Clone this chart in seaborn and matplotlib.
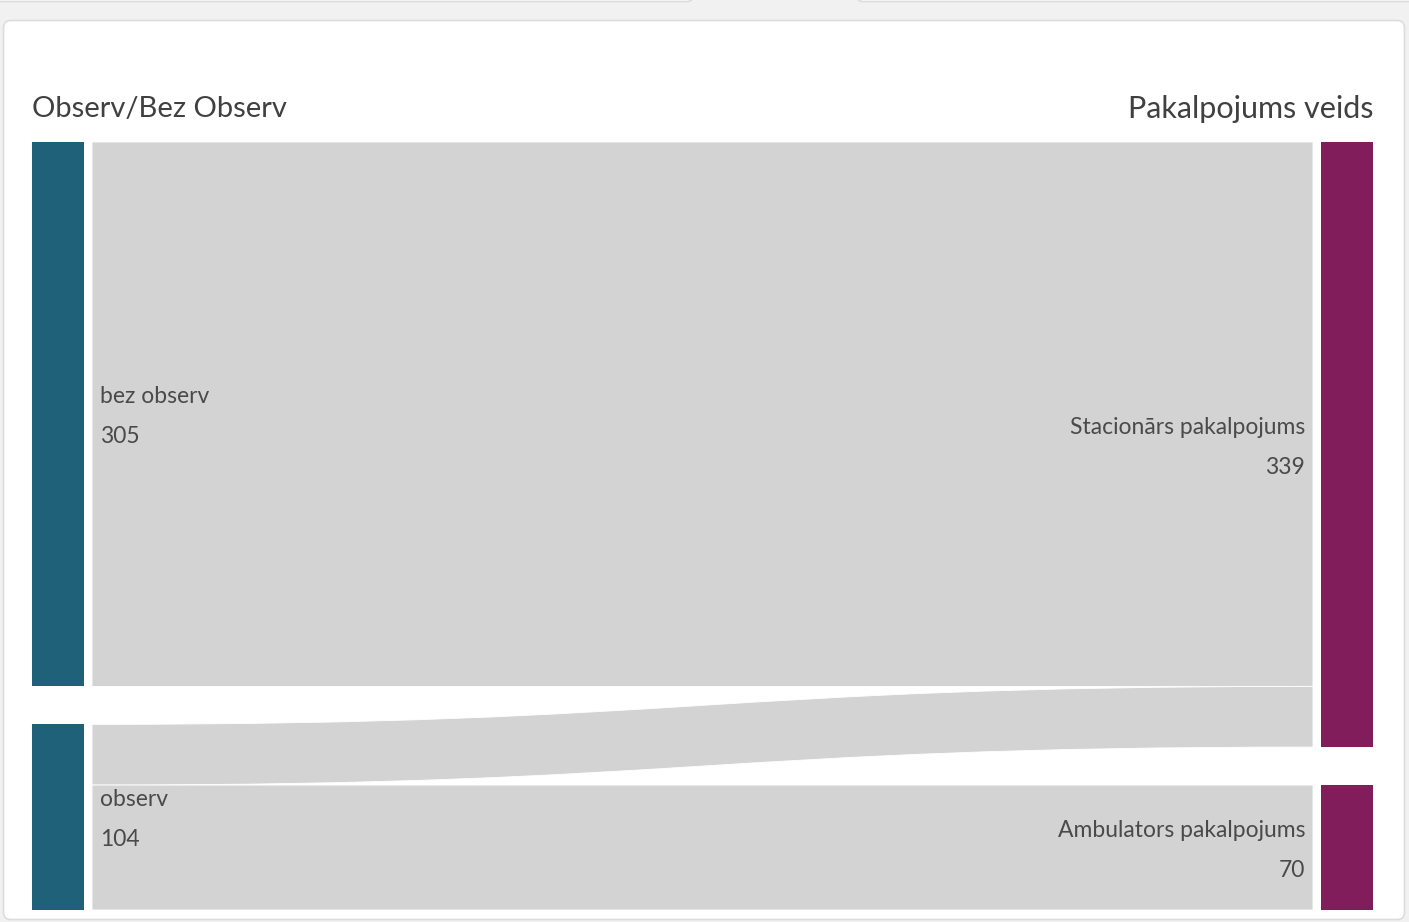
import numpy as np
import matplotlib
matplotlib.use("Agg")
import matplotlib.pyplot as plt
import seaborn as sns
from matplotlib.patches import FancyBboxPatch, Rectangle, PathPatch
from matplotlib.path import Path

# ---- data ----
source_title = "Observ/Bez Observ"
target_title = "Pakalpojums veids"
sources = ["bez observ", "observ"]
targets = ["Stacionārs pakalpojums", "Ambulators pakalpojums"]
flow_src = ["bez observ", "observ", "observ"]
flow_tgt = ["Stacionārs pakalpojums", "Stacionārs pakalpojums", "Ambulators pakalpojums"]
flow_val = [305, 34, 70]

sns.set_theme(style="white")
plt.rcParams["font.family"] = ["Lato", "DejaVu Sans"]

SRC_COLOR = "#1f6179"
TGT_COLOR = "#811d5b"
FLOW_COLOR = "#d3d3d3"
TEXT_COLOR = "#4a4a4a"

W, H = 1409, 922
fig = plt.figure(figsize=(W / 100, H / 100), dpi=100)
fig.patch.set_facecolor("#f1f1f1")
ax = fig.add_axes([0, 0, 1, 1])
ax.set_xlim(0, W)
ax.set_ylim(H, 0)
ax.axis("off")

# dashboard cards
for x0, x1 in [(-20, 693), (857, 1430)]:
    ax.add_patch(FancyBboxPatch((x0, -40), x1 - x0, 41.5,
                                boxstyle="round,pad=0,rounding_size=6",
                                fc="white", ec="#dcdcdc", lw=1.2, zorder=0))
ax.add_patch(FancyBboxPatch((3.5, 20.5), 1401, 899,
                            boxstyle="round,pad=0,rounding_size=7",
                            fc="white", ec="#dcdcdc", lw=1.2, zorder=0))

# ---- sankey layout ----
top, bottom = 142, 910
gap = 38
src_x, tgt_x, node_w = 32, 1321, 52
flow_x0, flow_x1 = 92, 1313

src_tot = {s: sum(v for fs, v in zip(flow_src, flow_val) if fs == s) for s in sources}
tgt_tot = {t: sum(v for ft, v in zip(flow_tgt, flow_val) if ft == t) for t in targets}
total = sum(flow_val)
k = (bottom - top - gap * (len(sources) - 1)) / total


def stack(names, tot):
    pos, y = {}, top
    for n in names:
        pos[n] = y
        y += tot[n] * k + gap
    return pos


src_y = stack(sources, src_tot)
tgt_y = stack(targets, tgt_tot)

# flows
src_off = dict(src_y)
tgt_off = dict(tgt_y)
xm = (flow_x0 + flow_x1) / 2
for s, t, v in zip(flow_src, flow_tgt, flow_val):
    h = v * k
    ys, yt = src_off[s], tgt_off[t]
    verts = [(flow_x0, ys), (xm, ys), (xm, yt), (flow_x1, yt),
             (flow_x1, yt + h), (xm, yt + h), (xm, ys + h), (flow_x0, ys + h),
             (flow_x0, ys)]
    codes = [Path.MOVETO, Path.CURVE4, Path.CURVE4, Path.CURVE4,
             Path.LINETO, Path.CURVE4, Path.CURVE4, Path.CURVE4, Path.CLOSEPOLY]
    ax.add_patch(PathPatch(Path(verts, codes), fc=FLOW_COLOR, ec="white",
                           lw=0.6, zorder=1))
    src_off[s] += h
    tgt_off[t] += h

# nodes and labels
LABEL_SIZE = 16.5
for n in sources:
    y0, h = src_y[n], src_tot[n] * k
    ax.add_patch(Rectangle((src_x, y0), node_w, h, fc=SRC_COLOR, ec="none", zorder=2))
    cy = y0 + h / 2
    ax.text(100, cy - 18, n, ha="left", va="center", fontsize=LABEL_SIZE,
            color=TEXT_COLOR, zorder=3)
    ax.text(100, cy + 22, f"{src_tot[n]}", ha="left", va="center", fontsize=LABEL_SIZE,
            color=TEXT_COLOR, zorder=3)

for n in targets:
    y0, h = tgt_y[n], tgt_tot[n] * k
    ax.add_patch(Rectangle((tgt_x, y0), node_w, h, fc=TGT_COLOR, ec="none", zorder=2))
    cy = y0 + h / 2
    ax.text(1305, cy - 17, n, ha="right", va="center", fontsize=LABEL_SIZE,
            color=TEXT_COLOR, zorder=3)
    ax.text(1305, cy + 23, f"{tgt_tot[n]}", ha="right", va="center", fontsize=LABEL_SIZE,
            color=TEXT_COLOR, zorder=3)

ax.text(src_x, 109, source_title, ha="left", va="center", fontsize=21, color="#404040")
ax.text(tgt_x + node_w, 109, target_title, ha="right", va="center", fontsize=22,
        color="#404040")

fig.savefig("out.png", dpi=100, facecolor=fig.get_facecolor())
